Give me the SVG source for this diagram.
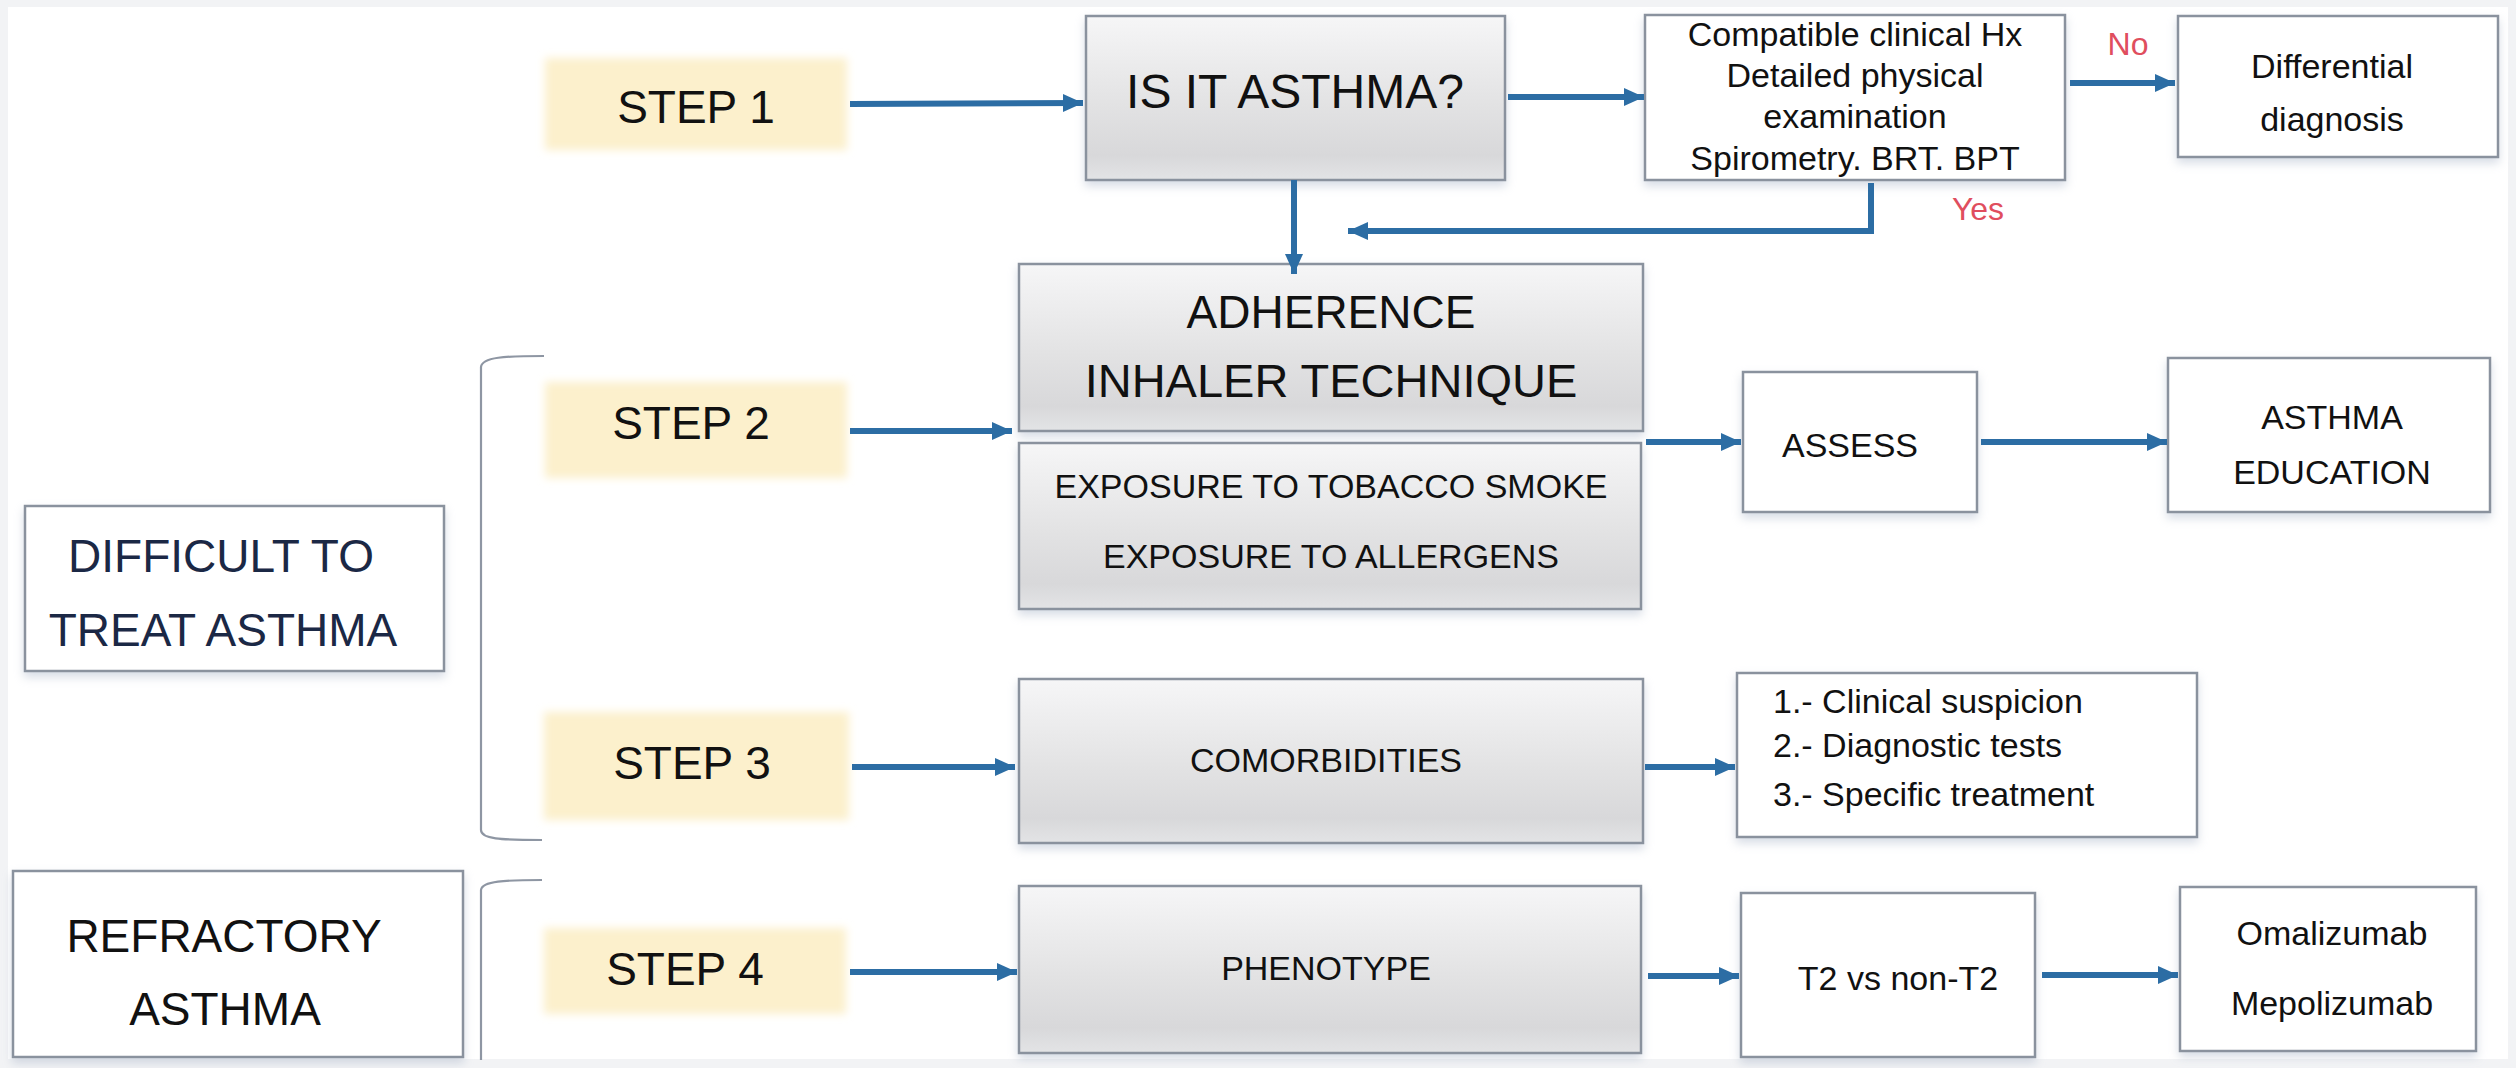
<svg xmlns="http://www.w3.org/2000/svg" width="2516" height="1068" viewBox="0 0 2516 1068">
<style>
text{font-family:"Liberation Sans",Arial,sans-serif;fill:#111;}
.c{text-anchor:middle;}
.big{font-size:46px;}
.mid{font-size:34px;}
.red{fill:#E04E5E;font-size:32px;}
.navy{fill:#1B2845;}
.gray{fill:url(#gGray);stroke:#8A929E;stroke-width:2.5;filter:url(#sh);}
.white{fill:#FFFFFF;stroke:#8A929E;stroke-width:2.5;filter:url(#sh);}
.step{fill:#FCF0CC;filter:url(#soft);}
.conn{fill:none;stroke:#2C6DA4;stroke-width:6;}
.br{fill:none;stroke:#8E96A3;stroke-width:2.2;}
</style>
<defs>
<linearGradient id="gGray" x1="0" y1="0" x2="0" y2="1">
<stop offset="0" stop-color="#F6F6F7"/>
<stop offset="0.55" stop-color="#E2E2E3"/>
<stop offset="0.85" stop-color="#D8D8DA"/>
<stop offset="1" stop-color="#E3E4E6"/>
</linearGradient>
<filter id="sh" x="-5%" y="-10%" width="110%" height="130%">
<feDropShadow dx="0" dy="5" stdDeviation="5" flood-color="#A8B4C8" flood-opacity="0.45"/>
</filter>
<filter id="soft" x="-10%" y="-20%" width="120%" height="140%">
<feGaussianBlur stdDeviation="4"/>
</filter>
<marker id="ah" markerUnits="userSpaceOnUse" markerWidth="22" markerHeight="20" refX="20" refY="9" orient="auto">
<path d="M0,0 L20,9 L0,18 z" fill="#2C6DA4"/>
</marker>
</defs>
<rect x="0" y="0" width="2516" height="1068" fill="#F2F3F5"/>
<rect x="8" y="7" width="2500" height="1052" fill="#FFFFFF"/>

<g id="step1"><rect class="step" x="545" y="58" width="302" height="92"/><text class="c big" x="696" y="123">STEP 1</text></g>
<g id="step2"><rect class="step" x="545" y="382" width="302" height="96"/><text class="c big" x="691" y="439">STEP 2</text></g>
<g id="step3"><rect class="step" x="544" y="712" width="305" height="108"/><text class="c big" x="692" y="779">STEP 3</text></g>
<g id="step4"><rect class="step" x="544" y="928" width="302" height="86"/><text class="c big" x="685" y="985">STEP 4</text></g>

<g id="isasthma"><rect class="gray" x="1086" y="16" width="419" height="164"/><text class="c" style="font-size:48px" x="1295" y="108">IS IT ASTHMA?</text></g>
<g id="compatible"><rect class="white" x="1645" y="15" width="420" height="165"/>
<text class="c mid" x="1855" y="46">Compatible clinical Hx</text>
<text class="c mid" x="1855" y="87">Detailed physical</text>
<text class="c mid" x="1855" y="128">examination</text>
<text class="c mid" x="1855" y="170">Spirometry. BRT. BPT</text></g>
<g id="differential"><rect class="white" x="2178" y="16" width="320" height="141"/>
<text class="c mid" x="2332" y="78">Differential</text>
<text class="c mid" x="2332" y="131">diagnosis</text></g>
<g id="labelNo"><text class="c red" x="2128" y="55">No</text></g>
<g id="labelYes"><text class="c red" x="1978" y="220">Yes</text></g>

<g id="adherence"><rect class="gray" x="1019" y="264" width="624" height="167"/>
<text class="c big" x="1331" y="328">ADHERENCE</text>
<text class="c" style="font-size:47px" x="1331" y="397">INHALER TECHNIQUE</text></g>
<g id="exposure"><rect class="gray" x="1019" y="443" width="622" height="166"/>
<text class="c mid" x="1331" y="498">EXPOSURE TO TOBACCO SMOKE</text>
<text class="c mid" x="1331" y="568">EXPOSURE TO ALLERGENS</text></g>
<g id="assess"><rect class="white" x="1743" y="372" width="234" height="140"/><text class="c mid" x="1850" y="457">ASSESS</text></g>
<g id="education"><rect class="white" x="2168" y="358" width="322" height="154"/>
<text class="c mid" x="2332" y="429">ASTHMA</text>
<text class="c mid" x="2332" y="484">EDUCATION</text></g>

<g id="difficult"><rect class="white" x="25" y="506" width="419" height="165"/>
<text class="c big navy" x="221" y="572">DIFFICULT TO</text>
<text class="c big navy" x="223" y="646">TREAT ASTHMA</text></g>
<g id="refractory"><rect class="white" x="13" y="871" width="450" height="186"/>
<text class="c big" x="224" y="952">REFRACTORY</text>
<text class="c big" x="225" y="1025">ASTHMA</text></g>

<g id="comorbidities"><rect class="gray" x="1019" y="679" width="624" height="164"/><text class="c mid" x="1326" y="772">COMORBIDITIES</text></g>
<g id="steps3list"><rect class="white" x="1737" y="673" width="460" height="164"/>
<text class="mid" x="1773" y="713">1.- Clinical suspicion</text>
<text class="mid" x="1773" y="757">2.- Diagnostic tests</text>
<text class="mid" x="1773" y="806">3.- Specific treatment</text></g>
<g id="phenotype"><rect class="gray" x="1019" y="886" width="622" height="167"/><text class="c mid" x="1326" y="980">PHENOTYPE</text></g>
<g id="t2"><rect class="white" x="1741" y="893" width="294" height="164"/><text class="c mid" x="1898" y="990">T2 vs non-T2</text></g>
<g id="biologics"><rect class="white" x="2180" y="887" width="296" height="164"/>
<text class="c mid" x="2332" y="945">Omalizumab</text>
<text class="c mid" x="2332" y="1015">Mepolizumab</text></g>

<g id="brackets">
<path class="br" d="M544,356 C505,356 482,357 481,367 L481,830 C481,839 500,840 542,840"/>
<path class="br" d="M542,880 C505,880 482,881 481,890 L481,1060"/>
</g>

<g id="connectors">
<line class="conn" x1="850" y1="104" x2="1083" y2="103" marker-end="url(#ah)"/>
<line class="conn" x1="1508" y1="97" x2="1644" y2="97" marker-end="url(#ah)"/>
<line class="conn" x1="2070" y1="83" x2="2175" y2="83" marker-end="url(#ah)"/>
<line class="conn" x1="1294" y1="180" x2="1294" y2="274" marker-end="url(#ah)"/>
<polyline class="conn" points="1871,183 1871,231 1348,231" marker-end="url(#ah)"/>
<line class="conn" x1="850" y1="431" x2="1012" y2="431" marker-end="url(#ah)"/>
<line class="conn" x1="1646" y1="442" x2="1741" y2="442" marker-end="url(#ah)"/>
<line class="conn" x1="1981" y1="442" x2="2167" y2="442" marker-end="url(#ah)"/>
<line class="conn" x1="852" y1="767" x2="1015" y2="767" marker-end="url(#ah)"/>
<line class="conn" x1="1645" y1="767" x2="1735" y2="767" marker-end="url(#ah)"/>
<line class="conn" x1="850" y1="972" x2="1017" y2="972" marker-end="url(#ah)"/>
<line class="conn" x1="1648" y1="976" x2="1739" y2="976" marker-end="url(#ah)"/>
<line class="conn" x1="2042" y1="975" x2="2178" y2="975" marker-end="url(#ah)"/>
</g>
</svg>
